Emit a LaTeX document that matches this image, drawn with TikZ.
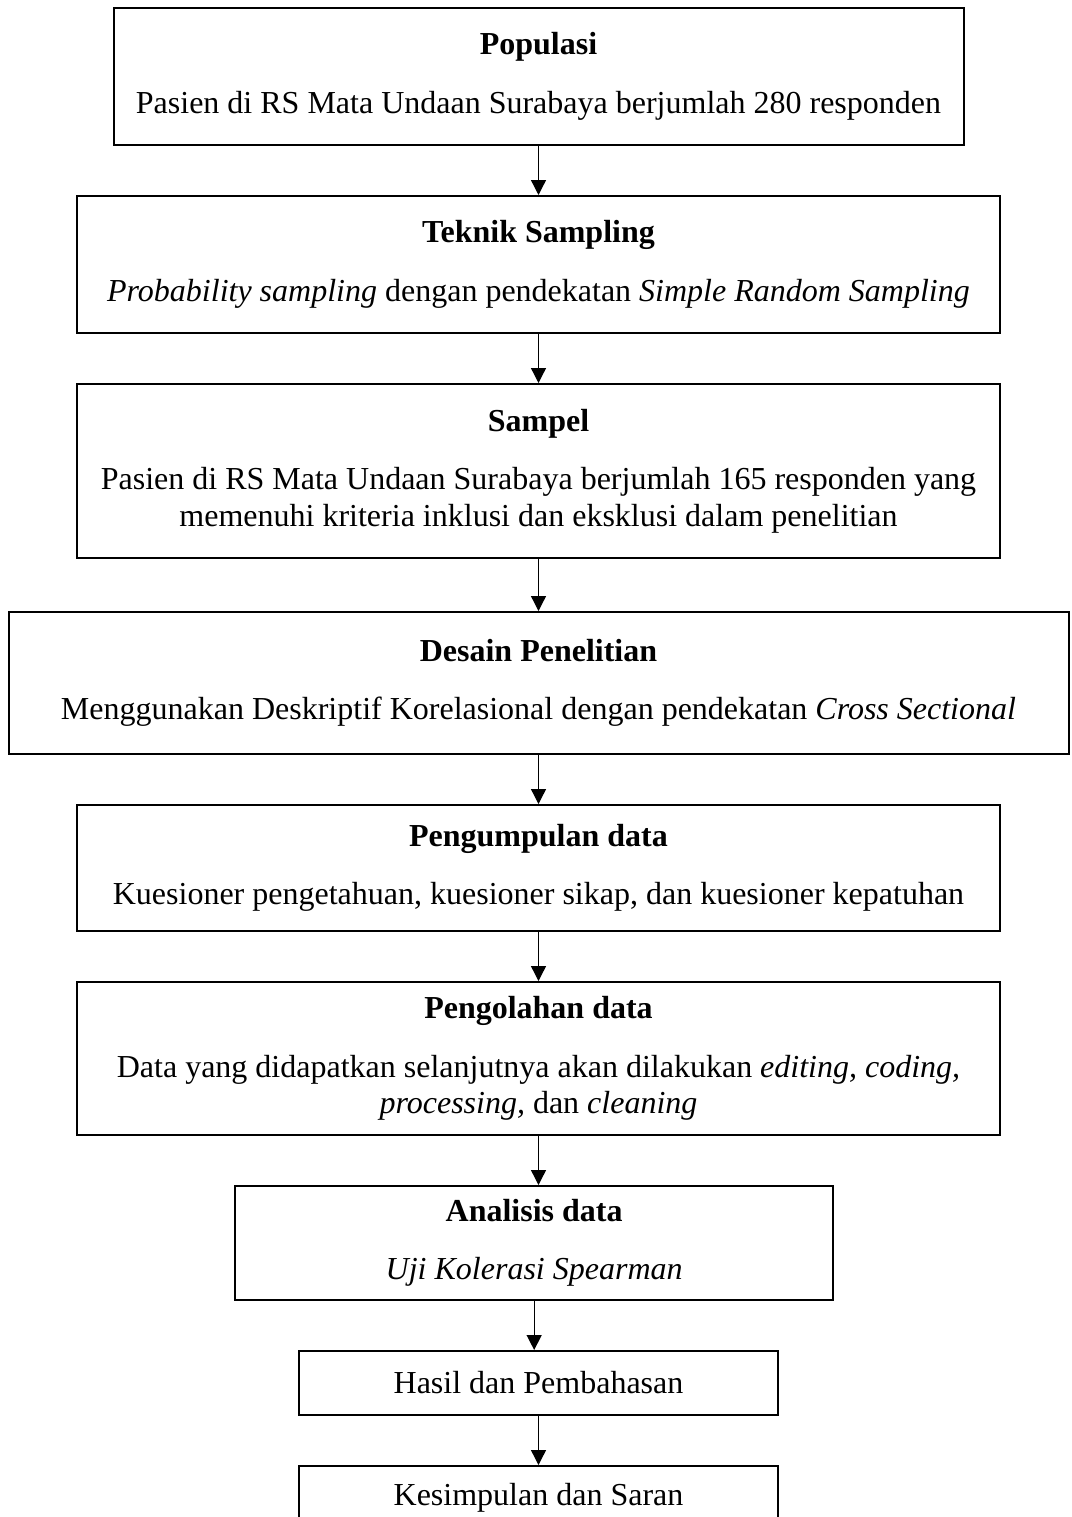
\documentclass[tikz,border=0pt]{standalone}
\usepackage{fontspec}
\setmainfont{Liberation Serif}
\usetikzlibrary{positioning, arrows.meta}

\begin{document}
\begin{tikzpicture}
  [block/.style={rectangle, draw=black, line width=0.6pt, align=center,
  inner sep=0pt, font=\fontsize{9.6}{11}\selectfont},
  line/.style={draw, line width=0.4pt, -{Triangle[width=4.5pt,length=4.5pt]}},
  node distance=14.7pt]

  \useasboundingbox (0,0) rectangle (321.3pt,-455.1pt);

  \node [block, minimum width=255pt, minimum height=41.1pt] (pop) at (161.55pt,-22.95pt)
    {\textbf{Populasi}\\[6.5pt]Pasien di RS Mata Undaan Surabaya berjumlah 280 responden};
  \node [block, minimum width=276.9pt, minimum height=41.1pt, below=of pop] (teknik)
    {\textbf{Teknik Sampling}\\[6.5pt]\textit{Probability sampling} dengan pendekatan \textit{Simple Random Sampling}};
  \node [block, minimum width=276.9pt, minimum height=52.2pt, below=of teknik] (sampel)
    {\textbf{Sampel}\\[6.5pt]Pasien di RS Mata Undaan Surabaya berjumlah 165 responden yang\\
    memenuhi kriteria inklusi dan eksklusi dalam penelitian};
  \node [block, minimum width=318pt, minimum height=42.6pt, below=15.6pt of sampel] (desain)
    {\textbf{Desain Penelitian}\\[6.5pt]Menggunakan Deskriptif Korelasional dengan pendekatan \textit{Cross Sectional}};
  \node [block, minimum width=276.9pt, minimum height=37.8pt, below=of desain] (kumpul)
    {\textbf{Pengumpulan data}\\[6.5pt]Kuesioner pengetahuan, kuesioner sikap, dan kuesioner kepatuhan};
  \node [block, minimum width=276.9pt, minimum height=45.9pt, below=of kumpul] (olah)
    {\textbf{Pengolahan data}\\[6.5pt]Data yang didapatkan selanjutnya akan dilakukan \textit{editing, coding,}\\
    \textit{processing,} dan \textit{cleaning}};
  \node [block, minimum width=179.4pt, minimum height=34.2pt, below=of olah, xshift=-1.3pt] (analisis)
    {\textbf{Analisis data}\\[6.5pt]\textit{Uji Kolerasi Spearman}};
  \node [block, minimum width=143.7pt, minimum height=19.2pt, below=of analisis, xshift=1.3pt] (hasil)
    {Hasil dan Pembahasan};
  \node [block, minimum width=143.7pt, minimum height=19.2pt, below=of hasil] (simpul)
    {Kesimpulan dan Saran};

  \begin{scope}[every path/.style=line]
    \path (pop.south) -- (pop.south |- teknik.north);
    \path (teknik.south) -- (teknik.south |- sampel.north);
    \path (sampel.south) -- (sampel.south |- desain.north);
    \path (desain.south) -- (desain.south |- kumpul.north);
    \path (kumpul.south) -- (kumpul.south |- olah.north);
    \path (olah.south) -- (olah.south |- analisis.north);
    \path (analisis.south) -- (analisis.south |- hasil.north);
    \path (hasil.south) -- (hasil.south |- simpul.north);
  \end{scope}
\end{tikzpicture}
\end{document}
